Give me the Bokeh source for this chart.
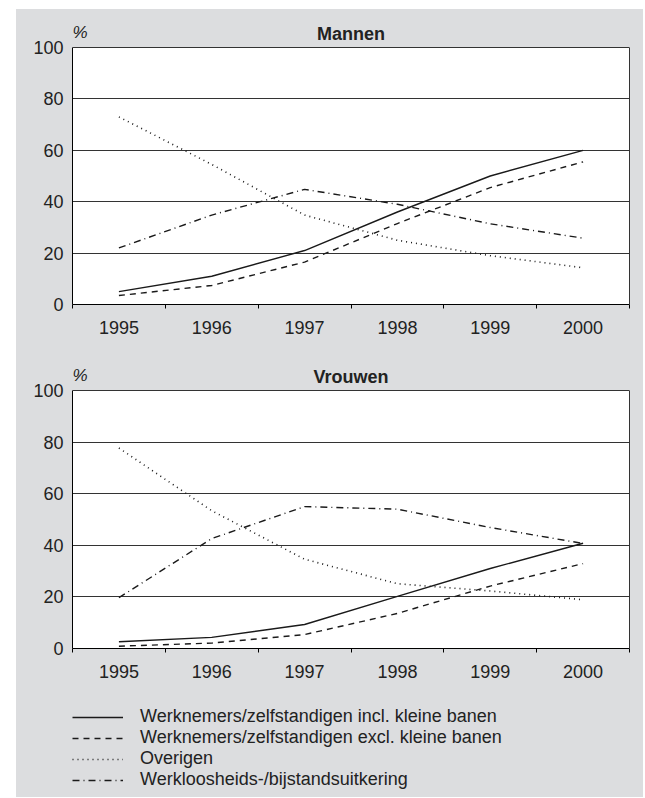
import numpy as np
from bokeh.plotting import figure
from bokeh.layouts import column
from bokeh.models import (Range1d, FixedTicker, Label, Legend, LegendItem,
                          BoxAnnotation, LinearAxis)
from bokeh.embed import file_html
from bokeh.resources import INLINE

years = ["1995", "1996", "1997", "1998", "1999", "2000"]
y_ticks = [0, 20, 40, 60, 80, 100]

series_names = [
    "Werknemers/zelfstandigen incl. kleine banen",
    "Werknemers/zelfstandigen excl. kleine banen",
    "Overigen",
    "Werkloosheids-/bijstandsuitkering",
]

mannen_incl = [5.0, 11.0, 21.0, 36.0, 50.0, 60.0]
mannen_excl = [3.5, 7.4, 16.5, 31.5, 45.5, 55.5]
mannen_overig = [73.0, 54.5, 34.8, 25.0, 19.0, 14.3]
mannen_uitk = [22.0, 34.8, 44.8, 39.0, 31.4, 25.8]

vrouwen_incl = [2.6, 4.3, 9.3, 20.2, 31.0, 40.8]
vrouwen_excl = [0.9, 2.1, 5.4, 13.6, 24.2, 32.9]
vrouwen_overig = [77.7, 53.4, 34.6, 25.1, 22.3, 18.9]
vrouwen_uitk = [19.7, 42.6, 55.0, 54.0, 46.9, 40.7]

FONT = "Liberation Sans"
TXT = "#222222"
PANEL = "#dcdddf"
LINE = "#1a1a1a"
dashes = ["solid", "6 5", "1 4", "7 4 1 4"]
widths = [1.4, 1.4, 1.6, 1.4]
W = 627
BL, BR = 56, 14

xpos = np.arange(len(years)) + 0.5


def make_chart(title, height, top_px, bottom, data):
    frame_h = height - bottom
    plot_h = frame_h - top_px          # pixels for 0..100
    ymax = 100.0 * frame_h / plot_h
    px = 100.0 / plot_h                # data units per pixel

    p = figure(width=W, height=height, output_backend="svg", toolbar_location=None,
               x_range=Range1d(0, len(years)), y_range=Range1d(0, ymax),
               min_border_left=BL, min_border_right=BR, min_border_top=0,
               min_border_bottom=bottom)
    p.border_fill_color = PANEL
    p.background_fill_color = PANEL
    p.outline_line_color = None

    p.add_layout(BoxAnnotation(left=0, right=len(years), bottom=0, top=100,
                               fill_color="white", fill_alpha=1, line_color=None,
                               level="image"))

    xa = p.xaxis[0]
    xa.ticker = FixedTicker(ticks=list(xpos), minor_ticks=list(range(len(years) + 1)))
    xa.major_label_overrides = {float(x): y for x, y in zip(xpos, years)}
    xa.major_tick_out = 0
    xa.major_tick_in = 0
    xa.minor_tick_out = 4
    xa.minor_tick_in = 0
    xa.minor_tick_line_color = "black"
    xa.axis_line_color = "black"
    xa.major_label_standoff = 12
    xa.major_label_text_font = FONT
    xa.major_label_text_font_size = "18px"
    xa.major_label_text_color = TXT

    ya = p.yaxis[0]
    ya.ticker = FixedTicker(ticks=y_ticks)
    ya.bounds = (0, 100)
    ya.major_tick_out = 0
    ya.major_tick_in = 0
    ya.minor_tick_out = 0
    ya.minor_tick_in = 0
    ya.axis_line_color = "black"
    ya.major_label_standoff = 9
    ya.major_label_text_font = FONT
    ya.major_label_text_font_size = "18px"
    ya.major_label_text_color = TXT

    ra = LinearAxis(ticker=FixedTicker(ticks=[]), bounds=(0, 100),
                    major_tick_out=0, major_tick_in=0, minor_tick_out=0, minor_tick_in=0,
                    major_label_standoff=0, major_label_text_font_size="0px",
                    axis_line_color="#333333")
    p.add_layout(ra, "right")

    p.xgrid.visible = False
    p.ygrid.ticker = FixedTicker(ticks=y_ticks)
    p.ygrid.grid_line_color = "#333333"
    p.ygrid.grid_line_width = 1

    base = 100 + 14 * px
    p.add_layout(Label(x=len(years) / 2, y=base, text=title, text_align="center",
                       text_baseline="alphabetic", text_font=FONT, text_font_size="18px",
                       text_font_style="bold", text_color=TXT))
    p.add_layout(Label(x=0, y=base + 1.5 * px, text="%", text_align="left",
                       text_baseline="alphabetic", text_font=FONT, text_font_size="17px",
                       text_font_style="italic", text_color=TXT))

    for vals, dash, lw in zip(data, dashes, widths):
        p.line(xpos, vals, line_color=LINE, line_width=lw, line_dash=dash)
    return p


p1 = make_chart("Mannen", 341, 38, 46, [mannen_incl, mannen_excl, mannen_overig, mannen_uitk])
p2 = make_chart("Vrouwen", 340, 40, 42, [vrouwen_incl, vrouwen_excl, vrouwen_overig, vrouwen_uitk])

# legend panel
lg = figure(width=W, height=107, output_backend="svg", toolbar_location=None,
            x_range=Range1d(0, 1), y_range=Range1d(0, 1),
            x_axis_type=None, y_axis_type=None,
            min_border_left=BL, min_border_right=0, min_border_top=16, min_border_bottom=0)
lg.border_fill_color = PANEL
lg.background_fill_color = PANEL
lg.outline_line_color = None
rends = []
for vals, dash, lw in zip([vrouwen_incl, vrouwen_excl, vrouwen_overig, vrouwen_uitk], dashes, widths):
    rends.append(lg.line(xpos, vals, line_color=LINE, line_width=lw, line_dash=dash, visible=False))

legend = Legend(items=[LegendItem(label=n, renderers=[r]) for n, r in zip(series_names, rends)],
                location="top_left", orientation="vertical",
                background_fill_alpha=0, border_line_alpha=0,
                inactive_fill_alpha=0,
                margin=0, padding=0, spacing=0,
                glyph_width=51, glyph_height=20, label_height=20,
                label_standoff=17, label_text_font=FONT, label_text_font_size="18px",
                label_text_color=TXT)
lg.add_layout(legend, "center")

layout = column(p1, p2, lg, spacing=0, margin=(9, 0, 0, 16),
                styles={"background-color": PANEL})

with open("out.html", "w") as f:
    f.write(file_html(layout, INLINE))
